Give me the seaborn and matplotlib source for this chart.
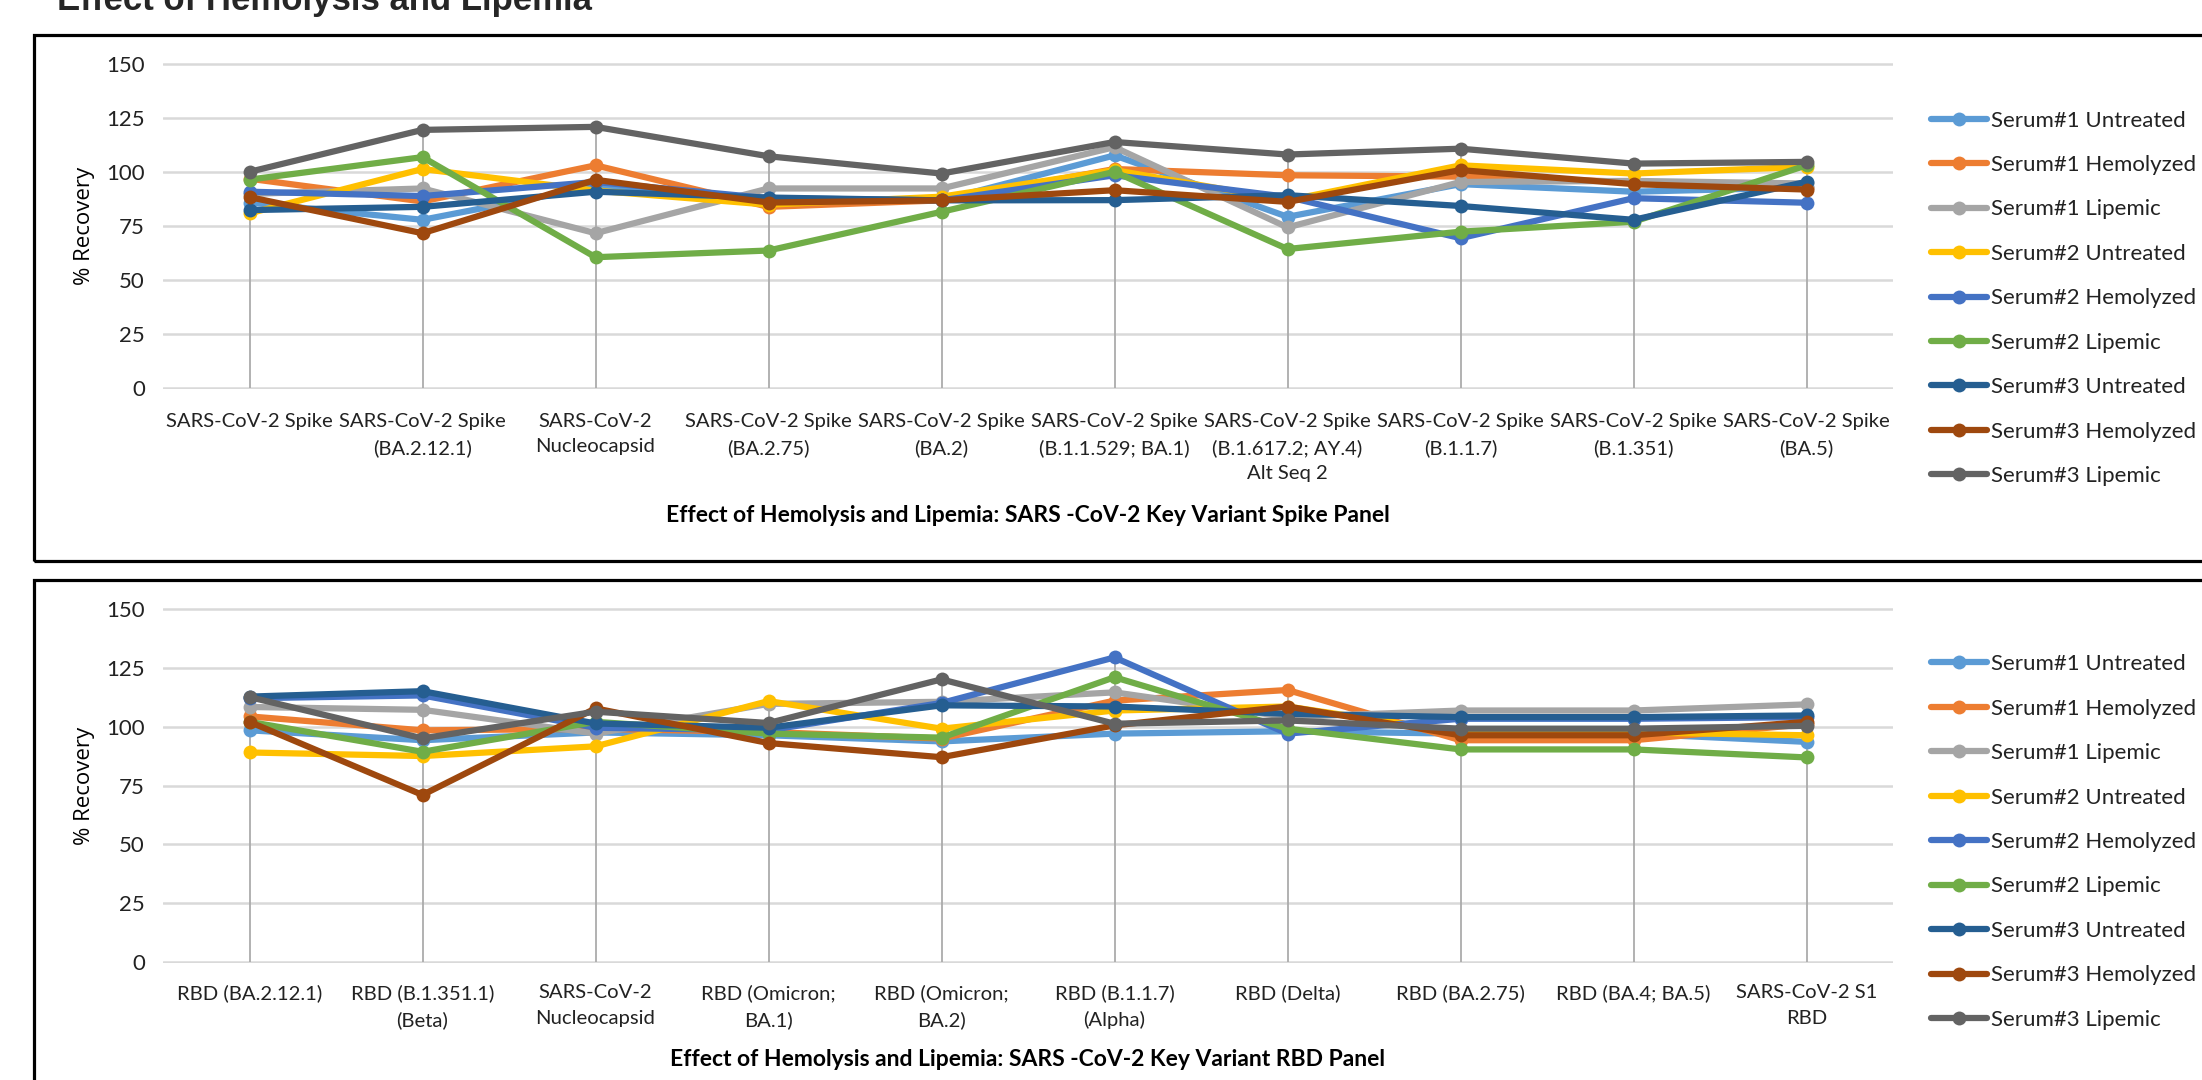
import numpy as np
import pandas as pd
import matplotlib
matplotlib.use("Agg")
import matplotlib.pyplot as plt
import seaborn as sns
from matplotlib.lines import Line2D
from matplotlib.patches import Rectangle

# ---------------- data ----------------
series_names = ["Serum#1 Untreated", "Serum#1 Hemolyzed", "Serum#1 Lipemic",
                "Serum#2 Untreated", "Serum#2 Hemolyzed", "Serum#2 Lipemic",
                "Serum#3 Untreated", "Serum#3 Hemolyzed", "Serum#3 Lipemic"]
series_colors = ["#5B9BD5", "#ED7D31", "#A5A5A5",
                 "#FFC000", "#4472C4", "#70AD47",
                 "#255E91", "#9E480E", "#636363"]

spike_categories = ["SARS-CoV-2 Spike", "SARS-CoV-2 Spike\n(BA.2.12.1)",
                    "SARS-CoV-2\nNucleocapsid", "SARS-CoV-2 Spike\n(BA.2.75)",
                    "SARS-CoV-2 Spike\n(BA.2)", "SARS-CoV-2 Spike\n(B.1.1.529; BA.1)",
                    "SARS-CoV-2 Spike\n(B.1.617.2; AY.4)\nAlt Seq 2",
                    "SARS-CoV-2 Spike\n(B.1.1.7)", "SARS-CoV-2 Spike\n(B.1.351)",
                    "SARS-CoV-2 Spike\n(BA.5)"]
rbd_categories = ["RBD (BA.2.12.1)", "RBD (B.1.351.1)\n(Beta)", "SARS-CoV-2\nNucleocapsid",
                  "RBD (Omicron;\nBA.1)", "RBD (Omicron;\nBA.2)", "RBD (B.1.1.7)\n(Alpha)",
                  "RBD (Delta)", "RBD (BA.2.75)", "RBD (BA.4; BA.5)", "SARS-CoV-2 S1\nRBD"]

# Spike panel (% recovery)
spike_s1_untreated = [86, 78, 93.5, 87, 87, 107.8, 79.4, 94.5, 91, 93]
spike_s1_hemolyzed = [97, 86.5, 103.2, 84, 87, 101.5, 98.6, 98, 95.5, 92.5]
spike_s1_lipemic = [90, 92.5, 71.8, 92.5, 92.5, 111.6, 74.5, 95.5, 96, 94.8]
spike_s2_untreated = [81, 101.5, 91.5, 85, 88.7, 101, 87, 103.2, 99.4, 102.5]
spike_s2_hemolyzed = [91, 89, 95.5, 88, 87, 98.6, 88.6, 69.5, 88, 85.9]
spike_s2_lipemic = [96.6, 107, 60.7, 63.8, 81.7, 100.2, 64.5, 72.5, 77.1, 103.2]
spike_s3_untreated = [82.5, 84, 91, 88.3, 87, 87.1, 89.4, 84.4, 78, 95.6]
spike_s3_hemolyzed = [88.5, 71.8, 96.5, 86, 87, 91.7, 86.3, 101, 94.5, 92]
spike_s3_lipemic = [100.2, 119.6, 121, 107.4, 99.4, 114, 108.2, 110.9, 104, 104.8]

# RBD panel (% recovery)
rbd_s1_untreated = [98.4, 94.2, 97.5, 96.3, 93.7, 97, 98, 97, 97, 93.5]
rbd_s1_hemolyzed = [104.3, 98.4, 99, 97.7, 94.9, 111, 115.5, 94.2, 94.2, 101]
rbd_s1_lipemic = [108.3, 107.1, 97, 109.6, 110.5, 114.5, 104, 106.8, 106.8, 109.4]
rbd_s2_untreated = [89, 87.5, 91.6, 110.8, 99.1, 106.8, 108.5, 97.5, 97.5, 96.3]
rbd_s2_hemolyzed = [112, 113.2, 99.5, 98.4, 110, 129.3, 97, 103.3, 103.3, 104]
rbd_s2_lipemic = [102, 89.3, 102, 97, 95.3, 120.9, 99.1, 90.3, 90.3, 86.9]
rbd_s3_untreated = [112.7, 115, 101.3, 99.5, 109, 108.5, 105.4, 104, 104, 104.7]
rbd_s3_hemolyzed = [102, 71, 107.7, 93, 87, 100.5, 108.5, 96.3, 96.3, 102]
rbd_s3_lipemic = [112.5, 95, 106.3, 101.5, 120, 101.2, 102.6, 99.1, 99.1, 100.3]

y_ticks = [0, 25, 50, 75, 100, 125, 150]

spike_title = "Effect of Hemolysis and Lipemia: SARS -CoV-2 Key Variant Spike Panel"
rbd_title = "Effect of Hemolysis and Lipemia: SARS -CoV-2 Key Variant RBD Panel"
fig_title = "Effect of Hemolysis and Lipemia"
y_label = "% Recovery"

# ---------------- style ----------------
sns.set_theme(style="white")
plt.rcParams["font.family"] = ["Lato", "DejaVu Sans"]

W, H = 2202, 1080
fig = plt.figure(figsize=(W / 100, H / 100), dpi=100)
fig.patch.set_facecolor("white")

palette = dict(zip(series_names, series_colors))
XTICK_FS = 14.6
YTICK_FS = 16
LEG_FS = 16
LW = 4.5
MS = 10


def fx(px):
    return px / W


def fy(py):
    return 1 - py / H


def draw_panel(ax, cats, values, xlabel, xlabel_y, tick_pad):
    n = len(cats)
    pos = np.arange(n)
    rows = []
    for name, vals in zip(series_names, values):
        for p, v in zip(pos, vals):
            rows.append({"pos": p, "value": v, "series": name})
    df = pd.DataFrame(rows)
    top = df.groupby("pos")["value"].max()
    ax.vlines(top.index, 0, top.values, color="#ABABAB", lw=1.3, zorder=1)
    sns.lineplot(data=df, x="pos", y="value", hue="series", hue_order=series_names,
                 palette=palette, marker="o", markersize=MS, markeredgewidth=0,
                 linewidth=LW, sort=False, legend=False, ax=ax, zorder=3)
    ax.set_xlim(-0.5, n - 0.5)
    ax.set_ylim(-0.4, 150.4)
    ax.set_yticks(y_ticks)
    ax.set_xticks(pos)
    ax.set_xticklabels(cats, linespacing=1.6)
    ax.grid(axis="y", color="#D9D9D9", lw=1.8)
    ax.grid(axis="x", visible=False)
    ax.set_axisbelow(True)
    sns.despine(ax=ax, left=True, bottom=True)
    ax.tick_params(axis="both", length=0, colors="#222222")
    ax.tick_params(axis="x", pad=tick_pad, labelsize=XTICK_FS)
    ax.tick_params(axis="y", pad=13, labelsize=YTICK_FS)
    ax.set_xlabel(xlabel, fontsize=16.5, fontweight="bold", color="black")
    ax.xaxis.label.set_va("center")
    ax.xaxis.set_label_coords(0.5, xlabel_y)
    ax.set_ylabel(y_label, fontsize=16, color="black", family=["Open Sans", "DejaVu Sans"])
    ax.yaxis.label.set_va("center")
    ax.yaxis.set_label_coords(-0.0455, 0.5)
    ax.set_facecolor("white")


def add_legend(ax, center_y_px):
    handles = [Line2D([0], [0], color=c, lw=LW, marker="o", markersize=MS,
                      markeredgewidth=0) for c in series_colors]
    leg = ax.legend(handles, series_names, loc="center left",
                    bbox_to_anchor=(fx(1931), fy(center_y_px)),
                    bbox_transform=fig.transFigure, frameon=False,
                    fontsize=LEG_FS, handlelength=2.5, handletextpad=0.2,
                    labelspacing=1.1, borderpad=0, borderaxespad=0)
    for t in leg.get_texts():
        t.set_color("#222222")


# axes positions (pixels from top-left)
ax_left, ax_right = 163, 1893
top_ax = fig.add_axes([fx(ax_left), fy(389.3), fx(ax_right - ax_left), (389.3 - 63.3) / H])
bot_ax = fig.add_axes([fx(ax_left), fy(963.3), fx(ax_right - ax_left), (963.3 - 607.7) / H])

spike_values = [spike_s1_untreated, spike_s1_hemolyzed, spike_s1_lipemic,
                spike_s2_untreated, spike_s2_hemolyzed, spike_s2_lipemic,
                spike_s3_untreated, spike_s3_hemolyzed, spike_s3_lipemic]
rbd_values = [rbd_s1_untreated, rbd_s1_hemolyzed, rbd_s1_lipemic,
              rbd_s2_untreated, rbd_s2_hemolyzed, rbd_s2_lipemic,
              rbd_s3_untreated, rbd_s3_hemolyzed, rbd_s3_lipemic]

draw_panel(top_ax, spike_categories, spike_values, spike_title, (389.3 - 515) / 326, 17)
draw_panel(bot_ax, rbd_categories, rbd_values, rbd_title, (963.3 - 1060) / 355.6, 15)
add_legend(top_ax, 298.3)
add_legend(bot_ax, 842)

# panel frames
fig.patches.append(Rectangle((fx(34), fy(561)), fx(2300 - 34), (561 - 35) / H,
                             transform=fig.transFigure, fill=False, lw=2.3,
                             edgecolor="black", zorder=0))
fig.patches.append(Rectangle((fx(34), fy(1200)), fx(2300 - 34), (1200 - 580) / H,
                             transform=fig.transFigure, fill=False, lw=2.3,
                             edgecolor="black", zorder=0))

fig.text(fx(57), fy(10), fig_title, fontsize=25, fontweight="bold",
         family=["Liberation Sans", "DejaVu Sans"], va="baseline", ha="left")

fig.savefig("out.png", dpi=100, facecolor="white")
